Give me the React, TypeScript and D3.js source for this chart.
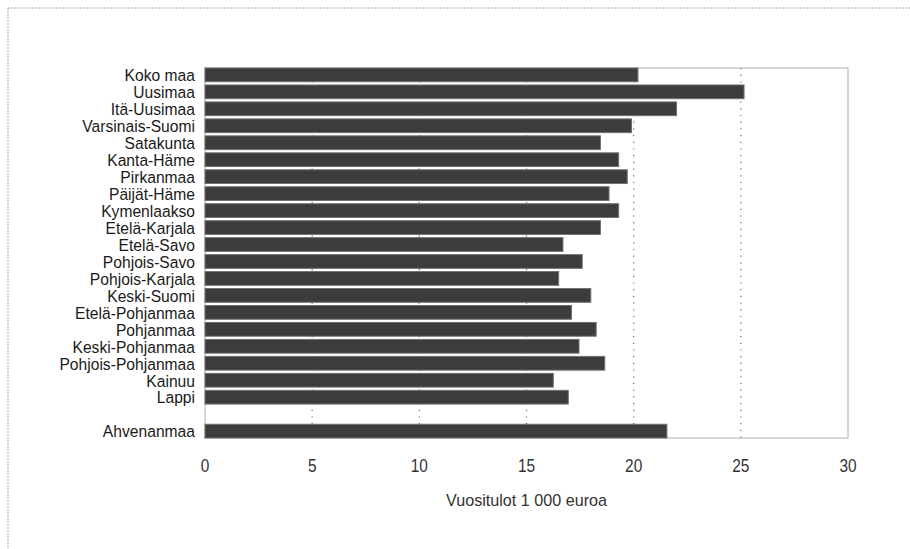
import React from "react";
import * as d3 from "d3";

const regions = [
  "Koko maa", "Uusimaa", "Itä-Uusimaa", "Varsinais-Suomi", "Satakunta",
  "Kanta-Häme", "Pirkanmaa", "Päijät-Häme", "Kymenlaakso", "Etelä-Karjala",
  "Etelä-Savo", "Pohjois-Savo", "Pohjois-Karjala", "Keski-Suomi", "Etelä-Pohjanmaa",
  "Pohjanmaa", "Keski-Pohjanmaa", "Pohjois-Pohjanmaa", "Kainuu", "Lappi",
  "", "Ahvenanmaa",
];
const values: (number | null)[] = [
  20.2, 25.15, 22.0, 19.9, 18.45,
  19.3, 19.7, 18.85, 19.3, 18.45,
  16.7, 17.6, 16.5, 18.0, 17.1,
  18.25, 17.45, 18.65, 16.25, 16.95,
  null, 21.55,
];
const xTicks = [0, 5, 10, 15, 20, 25, 30];
const gridTicks = [5, 10, 15, 20, 25];
const axisTitle = "Vuositulot 1 000 euroa";

const W = 910, H = 549;
const left = 205, right = 848, top = 68, bottom = 438;
const FONT = "'Liberation Sans', Arial, sans-serif";

export default function App() {
  const x = d3.scaleLinear().domain([0, 30]).range([left, right]);
  const keys = regions.map((r, i) => `${i}`);
  const y = d3.scaleBand().domain(keys).range([top, bottom]).paddingInner(0.19).paddingOuter(0);

  return (
    <svg width={W} height={H} style={{ position: "absolute", left: 0, top: 0, background: "#fff" }}>
      <line x1={8} y1={8} x2={W} y2={8} stroke="#aaa" strokeDasharray="2,1" />
      <line x1={8} y1={8} x2={8} y2={H} stroke="#aaa" strokeDasharray="2,1" />
      {gridTicks.map((t) => (
        <line key={t} x1={x(t)} x2={x(t)} y1={top} y2={bottom} stroke="#777" strokeDasharray="1.2,5.5" strokeWidth={1.3} />
      ))}
      <rect x={left} y={top} width={right - left} height={bottom - top} fill="none" stroke="#b0b0b0" strokeWidth={1} />
      {values.map((v, i) =>
        v == null ? null : (
          <rect key={i} x={x(0)} y={y(keys[i])} width={x(v) - x(0)} height={y.bandwidth()}
            fill="#3c3c3c" stroke="#707070" strokeWidth={1} />
        )
      )}
      {regions.map((r, i) =>
        r ? (
          <text key={i} transform={`translate(${left - 10},${(y(keys[i]) as number) + y.bandwidth() / 2}) scale(0.92,1)`}
            dy="0.37em" textAnchor="end" fontFamily={FONT} fontSize={17} fill="#1a1a1a">{r}</text>
        ) : null
      )}
      {xTicks.map((t) => (
        <text key={t} transform={`translate(${x(t)},472) scale(0.88,1)`} textAnchor="middle"
          fontFamily={FONT} fontSize={17.5} fill="#333">{t}</text>
      ))}
      <text transform={`translate(${(left + right) / 2},506) scale(0.95,1)`} textAnchor="middle"
        fontFamily={FONT} fontSize={17} fill="#333">{axisTitle}</text>
    </svg>
  );
}
